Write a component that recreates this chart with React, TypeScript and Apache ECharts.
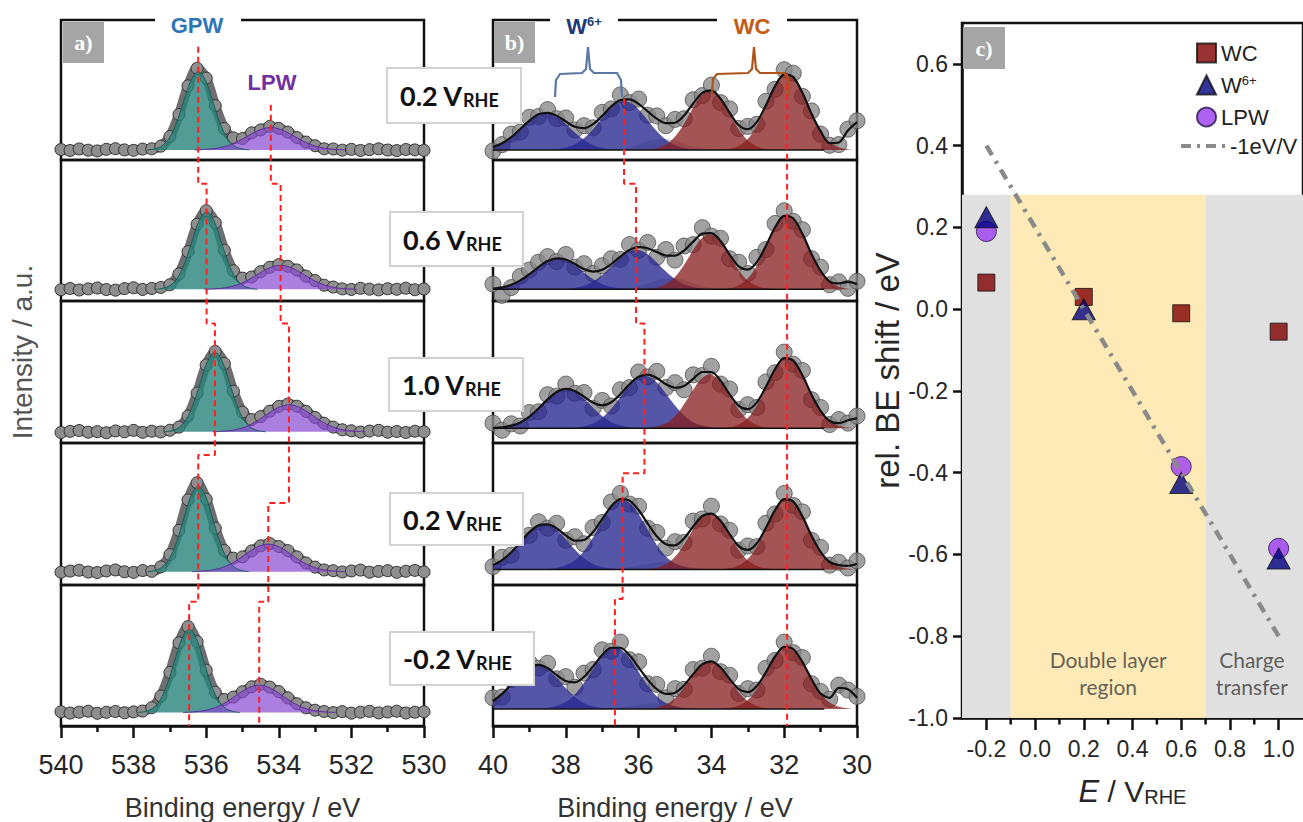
import React, { useEffect, useRef } from 'react';
import * as echarts from 'echarts';

const SANS = '"Liberation Sans", Arial, Helvetica, sans-serif';
const CAL = 'Lato, "Open Sans", sans-serif';
const SERIF = '"Liberation Serif", "DejaVu Serif", serif';

// ---------------- panel a: O 1s ----------------
const POTENTIALS = ['0.2', '0.6', '1.0', '0.2', '-0.2'];
const X_A = [540, 539.75, 539.5, 539.25, 539, 538.75, 538.5, 538.25, 538, 537.75, 537.5, 537.25, 537, 536.75, 536.5, 536.25, 536, 535.75, 535.5, 535.25, 535, 534.75, 534.5, 534.25, 534, 533.75, 533.5, 533.25, 533, 532.75, 532.5, 532.25, 532, 531.75, 531.5, 531.25, 531, 530.75, 530.5, 530.25, 530];
const O1S_ROW1 = [7.5, 6.8, 7.9, 7.0, 6.5, 7.6, 8.1, 7.2, 6.9, 7.8, 8.0, 9.9, 16.8, 32.5, 53.0, 65.5, 58.5, 38.8, 22.5, 15.8, 15.3, 19.4, 21.5, 24.0, 22.6, 19.9, 16.0, 12.8, 10.2, 8.0, 7.9, 7.0, 7.6, 6.8, 7.4, 8.0, 7.1, 6.7, 7.5, 7.2, 6.9];
const O1S_ROW2 = [8.0, 8.9, 7.8, 8.6, 9.2, 8.1, 7.7, 8.8, 9.4, 8.2, 8.9, 9.6, 11.5, 19.2, 35.0, 54.5, 64.0, 55.5, 36.0, 21.5, 16.2, 17.0, 20.8, 23.9, 25.8, 24.6, 22.0, 17.6, 14.5, 11.2, 9.9, 8.6, 8.2, 9.0, 8.4, 7.9, 8.7, 8.3, 9.1, 8.0, 8.5];
const O1S_ROW3 = [7.4, 8.2, 8.8, 7.6, 8.0, 7.2, 8.5, 7.9, 8.9, 7.5, 8.3, 7.8, 9.0, 11.2, 19.0, 35.2, 55.0, 64.5, 56.0, 36.5, 21.8, 16.5, 18.6, 22.4, 25.8, 27.4, 25.9, 22.3, 18.0, 13.9, 11.2, 9.3, 8.6, 7.7, 8.4, 8.9, 7.6, 8.1, 7.4, 8.3, 7.9];
const O1S_ROW4 = [9.0, 9.8, 10.4, 9.1, 8.8, 9.9, 10.6, 9.3, 8.9, 10.2, 9.6, 12.8, 21.4, 38.5, 60.0, 72.0, 60.5, 40.0, 24.3, 18.9, 19.8, 24.0, 27.6, 29.2, 27.1, 24.2, 19.8, 15.5, 12.6, 10.6, 10.1, 9.2, 9.9, 10.5, 9.0, 9.6, 10.1, 8.9, 9.7, 10.3, 9.2];
const O1S_ROW5 = [10.1, 9.2, 9.8, 10.5, 9.0, 9.7, 10.3, 9.4, 10.0, 10.6, 13.0, 21.2, 38.0, 59.0, 70.5, 59.8, 39.6, 24.0, 18.8, 20.5, 24.3, 27.8, 29.6, 27.6, 24.4, 20.0, 15.8, 12.9, 11.2, 10.3, 9.5, 10.2, 9.1, 9.8, 10.4, 9.3, 9.9, 10.5, 9.2, 9.8, 10.1];
const O1S_DATA = [O1S_ROW1, O1S_ROW2, O1S_ROW3, O1S_ROW4, O1S_ROW5];
const O1S_BASE = [7.2, 8.3, 7.9, 9.4, 9.6];
const GPW_CENTER = [536.22, 535.99, 535.76, 536.22, 536.47];
const GPW_AMP = [56, 55, 56, 60, 59];
const LPW_CENTER = [534.22, 533.95, 533.72, 534.29, 534.54];
const LPW_AMP = [16, 17, 19, 19.4, 19.4];
const GPW_SHAPE_DX = [-1.4, -1.2, -1.0, -0.8, -0.6, -0.4, -0.2, 0, 0.2, 0.4, 0.6, 0.8, 1.0, 1.2, 1.4];
const GPW_SHAPE = [0, 0.014, 0.051, 0.149, 0.343, 0.621, 0.888, 1, 0.888, 0.621, 0.343, 0.149, 0.051, 0.014, 0];
const LPW_SHAPE_DX = [-2.1, -1.8, -1.5, -1.2, -0.9, -0.6, -0.3, 0, 0.3, 0.6, 0.9, 1.2, 1.5, 1.8, 2.1];
const LPW_SHAPE = [0, 0.022, 0.07, 0.182, 0.383, 0.653, 0.899, 1, 0.899, 0.653, 0.383, 0.182, 0.07, 0.022, 0];

// ---------------- panel b: W 4f ----------------
const X_B = [40, 39.75, 39.5, 39.25, 39, 38.75, 38.5, 38.25, 38, 37.75, 37.5, 37.25, 37, 36.75, 36.5, 36.25, 36, 35.75, 35.5, 35.25, 35, 34.75, 34.5, 34.25, 34, 33.75, 33.5, 33.25, 33, 32.75, 32.5, 32.25, 32, 31.75, 31.5, 31.25, 31, 30.75, 30.5, 30.25, 30];
const W4F_ROW1 = [6.5, 11.0, 18.5, 20.0, 30.5, 31.0, 36.0, 29.5, 30.0, 21.5, 24.5, 23.0, 34.0, 36.5, 46.5, 41.0, 43.5, 32.0, 31.5, 24.5, 29.0, 29.5, 43.0, 46.0, 53.5, 41.0, 36.5, 22.5, 24.0, 25.5, 42.0, 50.5, 64.5, 62.0, 45.5, 35.0, 18.5, 10.5, 11.0, 22.0, 28.0];
const W4F_ROW2 = [12.0, 4.0, 9.5, 17.5, 22.0, 27.5, 31.5, 28.0, 33.0, 24.0, 26.5, 19.5, 25.0, 30.0, 29.5, 40.0, 36.0, 41.5, 31.0, 36.5, 29.0, 39.0, 40.0, 52.0, 46.0, 44.5, 30.0, 27.5, 19.5, 31.0, 36.5, 55.0, 64.0, 56.5, 50.5, 30.0, 24.0, 11.5, 13.5, 9.0, 14.0];
const W4F_ROW3 = [14.0, 9.0, 13.5, 12.0, 21.5, 22.0, 34.0, 33.0, 41.5, 35.0, 35.5, 24.5, 30.0, 26.0, 37.5, 39.0, 50.0, 46.5, 50.5, 39.0, 42.5, 37.5, 48.0, 47.5, 54.0, 41.5, 38.0, 23.5, 27.0, 25.0, 43.0, 49.5, 64.0, 55.5, 51.0, 30.5, 25.0, 13.0, 16.5, 14.0, 19.0];
const W4F_ROW4 = [13.0, 19.5, 21.0, 33.0, 35.0, 44.5, 40.0, 43.5, 31.5, 34.0, 29.0, 40.5, 44.0, 58.5, 64.5, 57.0, 55.5, 40.0, 37.0, 26.0, 30.5, 30.0, 45.0, 46.5, 55.5, 43.0, 38.5, 24.5, 27.5, 27.0, 43.5, 50.0, 64.5, 56.0, 51.5, 31.5, 26.5, 14.0, 16.0, 12.0, 17.0];
const W4F_ROW5 = [20.0, 20.5, 33.0, 34.5, 45.0, 41.0, 44.5, 33.5, 35.0, 27.5, 37.5, 40.0, 54.0, 53.0, 59.5, 47.0, 45.5, 30.0, 29.5, 20.0, 26.5, 26.0, 40.0, 41.0, 49.5, 38.5, 36.0, 23.0, 26.5, 25.5, 41.0, 46.5, 59.5, 52.0, 48.5, 30.0, 24.5, 19.0, 29.0, 25.5, 21.0];
const W4F_DATA = [W4F_ROW1, W4F_ROW2, W4F_ROW3, W4F_ROW4, W4F_ROW5];
const W4F_FIT1 = [9.3, 12.0, 16.3, 22.1, 28.1, 32.6, 33.7, 31.7, 27.5, 23.7, 22.7, 25.6, 31.5, 38.3, 42.8, 43.3, 40.1, 34.7, 29.5, 26.3, 26.6, 31.8, 40.4, 48.0, 49.8, 43.8, 33.8, 24.8, 22.0, 27.2, 39.3, 52.8, 61.2, 59.2, 48.0, 33.1, 20.6, 12.0, 12.5, 21.0, 27.0];
const W4F_FIT2 = [8.8, 9.7, 11.5, 14.6, 19.0, 24.1, 28.3, 30.3, 29.4, 26.2, 22.7, 20.9, 22.2, 26.2, 31.5, 36.1, 38.2, 37.4, 34.7, 32.2, 32.2, 35.8, 42.1, 47.8, 48.2, 42.6, 32.9, 24.6, 22.3, 27.6, 39.2, 52.3, 60.4, 58.5, 47.7, 33.4, 21.3, 13.8, 12.5, 13.5, 12.0];
const W4F_FIT3 = [10.5, 11.0, 12.2, 14.5, 18.6, 24.3, 30.7, 35.9, 38.1, 36.7, 32.6, 28.3, 26.5, 28.7, 34.4, 41.4, 46.6, 48.2, 45.8, 41.4, 38.9, 40.2, 45.2, 50.0, 50.0, 43.9, 34.3, 26.2, 23.8, 28.6, 39.7, 52.1, 59.8, 58.0, 47.7, 34.1, 22.7, 15.5, 14.0, 16.0, 17.5];
const W4F_FIT4 = [14.0, 17.5, 23.0, 30.1, 37.2, 42.0, 42.7, 39.9, 34.9, 31.3, 31.7, 37.3, 46.4, 55.4, 60.5, 59.4, 52.8, 43.3, 34.3, 28.7, 27.9, 32.8, 41.2, 48.6, 50.3, 45.3, 35.9, 27.4, 24.7, 29.4, 40.5, 52.8, 60.5, 58.7, 48.4, 34.8, 23.4, 16.2, 14.0, 13.5, 15.0];
const W4F_FIT5 = [17.7, 22.8, 29.6, 36.8, 42.1, 43.4, 41.1, 36.1, 31.9, 30.9, 34.8, 42.3, 50.4, 55.5, 55.5, 50.1, 41.6, 32.9, 26.1, 22.8, 23.6, 28.9, 36.8, 43.8, 45.9, 41.6, 33.4, 26.2, 24.0, 28.4, 38.3, 49.3, 56.2, 54.6, 45.4, 33.3, 23.0, 20.0, 27.0, 26.0, 20.0];
const W4F_FIT = [W4F_FIT1, W4F_FIT2, W4F_FIT3, W4F_FIT4, W4F_FIT5];
const W4F_BASE = [7.1, 8.3, 10.3, 11, 12];
const W4F_BASE_END = 30.9;
const W6_72_CENTER = [36.4, 36.07, 35.84, 36.44, 36.65];
const W6_72_AMP = [35, 28, 37, 49, 43.6];
const W6_52_CENTER = [38.55, 38.22, 37.99, 38.59, 38.8];
const W6_52_AMP = [26.7, 22, 27.7, 32, 31.5];
const WX_CENTER = [35.35, 35.1, 34.85, 35.4, 35.6];
const WX_AMP = [8, 8, 4, 5, 4];
const WC_52_CENTER = [34.05, 34.05, 34.05, 34.05, 34.05];
const WC_52_AMP = [42.5, 39, 38, 39.5, 34];
const WC_72_CENTER = [31.92, 31.92, 31.92, 31.92, 31.92];
const WC_72_AMP = [54.7, 52.7, 50, 50, 44.7];
const W6_SHAPE_DX = [-2.2, -1.8, -1.4, -1.1, -0.8, -0.5, -0.25, 0, 0.25, 0.5, 0.8, 1.1, 1.4, 1.8, 2.2];
const W6_SHAPE = [0, 0.022, 0.098, 0.239, 0.469, 0.744, 0.929, 1, 0.929, 0.744, 0.469, 0.239, 0.098, 0.022, 0];
const WC_SHAPE_DX = [-1.8, -1.4, -1.1, -0.85, -0.6, -0.4, -0.2, 0, 0.2, 0.4, 0.6, 0.85, 1.1, 1.4, 1.8];
const WC_SHAPE = [0, 0.039, 0.135, 0.303, 0.552, 0.768, 0.936, 1, 0.936, 0.768, 0.552, 0.303, 0.135, 0.039, 0];

// dashed peak-position guides (panel height units: 5 = top, 0 = bottom)
const GPW_GUIDE_START = 4.81;
const GPW_GUIDE_STEPS = [3.84, 2.85, 1.92, 0.88];
const LPW_GUIDE_START = 4.4;
const LPW_GUIDE_STEPS = [3.84, 2.85, 1.58, 0.88];
const W6_GUIDE_START = 4.44;
const W6_GUIDE_STEPS = [3.84, 2.85, 1.79, 0.9];
const WC_GUIDE_START = 4.62;
const WC_GUIDE_STEPS = [3.84, 2.85, 1.79, 0.9];

// ---------------- panel c ----------------
const E_VALUES = [-0.2, 0.2, 0.6, 1.0];
const SHIFT_WC = [0.065, 0.03, -0.01, -0.055];
const SHIFT_W6 = [0.225, 0.0, -0.425, -0.61];
const SHIFT_LPW = [0.19, null, -0.385, -0.585];
const SLOPE_E = [-0.2, 1.0];
const SLOPE_SHIFT = [0.4, -0.8];
const REGION_BOUNDS = [-0.3, -0.1, 0.7, 1.1];
const REGION_COLORS = ['#e0e0e0', '#fdeab6', '#e0e0e0'];
const REGION_TOP = 0.28;
const REGION_NAMES = ['Double layer\nregion', 'Charge\ntransfer'];
const REGION_NAME_X = [0.3, 0.89];
const REGION_NAME_Y = -0.89;
const Y_MIN_C = -1.0;
const Y_MAX_C = 0.7;
const C_X_TICKS = [-0.2, 0, 0.2, 0.4, 0.6, 0.8, 1.0];
const C_X_MINOR = [-0.1, 0.1, 0.3, 0.5, 0.7, 0.9];
const C_Y_TICKS = [-1.0, -0.8, -0.6, -0.4, -0.2, 0, 0.2, 0.4, 0.6];

// ---------------- layout ----------------
const ROW_EDGES = [20, 160, 301, 443, 585, 726];
const PANEL_A_X = [61, 424];
const PANEL_B_X = [493, 857];
const C_BOX = [962, 23, 345, 695];
const LABEL_BOXES = [
  [387, 68, 134, 55],
  [390, 212, 133, 54],
  [389, 358, 134, 53],
  [390, 493, 133, 52],
  [390, 632, 144, 53],
];
const INK = '#111';
const TXT = '#262626';

function shapeCurve(center: number, amp: number, base: number, dx: number[], shape: number[]) {
  return dx.map((d, i) => [center + d, base + amp * shape[i]]);
}

function guidePath(centers: number[], start: number, steps: number[]) {
  const pts: number[][] = [[centers[0], start]];
  for (let i = 0; i < steps.length; i++) {
    pts.push([centers[i], steps[i]]);
    pts.push([centers[i + 1], steps[i]]);
  }
  pts.push([centers[centers.length - 1], 0]);
  return pts;
}

function buildOption() {
  const grid: any[] = [];
  const xAxis: any[] = [];
  const yAxis: any[] = [];
  const series: any[] = [];

  const rowAxes = (px: number[], min: number, max: number, r: number) => {
    const idx = grid.length;
    grid.push({
      left: px[0], top: ROW_EDGES[r], width: px[1] - px[0], height: ROW_EDGES[r + 1] - ROW_EDGES[r],
      show: true, borderColor: INK, borderWidth: 2.5, backgroundColor: 'rgba(0,0,0,0)',
    });
    const bottom = r === 4;
    xAxis.push({
      type: 'value', gridIndex: idx, min, max, inverse: true, interval: 2, show: bottom,
      axisLine: { show: true, onZero: false, lineStyle: { color: INK, width: 2.5 } },
      axisTick: { show: true, length: 12, lineStyle: { color: INK, width: 2.5 } },
      minorTick: { show: true, splitNumber: 2, length: 6, lineStyle: { color: INK, width: 2.5 } },
      axisLabel: { fontSize: 27, margin: 25, color: TXT, fontFamily: SANS },
      splitLine: { show: false },
      name: bottom ? 'Binding energy / eV' : '',
      nameLocation: 'middle', nameGap: 68,
      nameTextStyle: { fontSize: 27, color: '#333', fontFamily: SANS },
    });
    yAxis.push({ type: 'value', gridIndex: idx, min: 0, max: 100, show: false });
    return idx;
  };

  // panel a rows
  for (let r = 0; r < 5; r++) {
    const ax = rowAxes(PANEL_A_X, 530, 540, r);
    const base = O1S_BASE[r];
    series.push({
      type: 'line', xAxisIndex: ax, yAxisIndex: ax, silent: true, z: 2,
      data: X_A.map((x, i) => [x, O1S_DATA[r][i]]), smooth: 0.3,
      symbol: 'circle', symbolSize: 12, showSymbol: true,
      lineStyle: { color: '#6f6f6f', width: 10 },
      itemStyle: { color: '#8e8e8e', borderColor: '#333', borderWidth: 1 },
    });
    series.push({
      type: 'line', xAxisIndex: ax, yAxisIndex: ax, silent: true, z: 3, symbol: 'none', smooth: 0.35,
      data: shapeCurve(GPW_CENTER[r], GPW_AMP[r], base, GPW_SHAPE_DX, GPW_SHAPE),
      lineStyle: { width: 1, color: 'rgba(20,90,85,0.9)' },
      areaStyle: { color: 'rgba(40,130,122,0.8)', opacity: 1, origin: base },
    });
    series.push({
      type: 'line', xAxisIndex: ax, yAxisIndex: ax, silent: true, z: 3, symbol: 'none', smooth: 0.35,
      data: shapeCurve(LPW_CENTER[r], LPW_AMP[r], base, LPW_SHAPE_DX, LPW_SHAPE),
      lineStyle: { width: 1, color: 'rgba(90,40,150,0.9)' },
      areaStyle: { color: 'rgba(135,72,210,0.7)', opacity: 1, origin: base },
    });
  }

  // panel b rows
  for (let r = 0; r < 5; r++) {
    const ax = rowAxes(PANEL_B_X, 30, 40, r);
    const base = W4F_BASE[r];
    series.push({
      type: 'scatter', xAxisIndex: ax, yAxisIndex: ax, silent: true, z: 2,
      data: X_B.map((x, i) => [x, W4F_DATA[r][i]]), symbolSize: 16,
      itemStyle: { color: '#8a8a8a', borderColor: '#505050', borderWidth: 1 },
    });
    const comps: any[] = [
      [WX_CENTER[r], WX_AMP[r], WC_SHAPE_DX, WC_SHAPE, 'rgba(200,200,200,0.95)'],
      [W6_52_CENTER[r], W6_52_AMP[r], W6_SHAPE_DX, W6_SHAPE, 'rgba(38,38,145,0.78)'],
      [W6_72_CENTER[r], W6_72_AMP[r], W6_SHAPE_DX, W6_SHAPE, 'rgba(38,38,145,0.78)'],
      [WC_52_CENTER[r], WC_52_AMP[r], WC_SHAPE_DX, WC_SHAPE, 'rgba(135,30,30,0.76)'],
      [WC_72_CENTER[r], WC_72_AMP[r], WC_SHAPE_DX, WC_SHAPE, 'rgba(135,30,30,0.76)'],
    ];
    comps.forEach((c) => {
      series.push({
        type: 'line', xAxisIndex: ax, yAxisIndex: ax, silent: true, z: 3, symbol: 'none', smooth: 0.35,
        data: shapeCurve(c[0], c[1], base, c[2], c[3]),
        lineStyle: { width: 0 },
        areaStyle: { color: c[4], opacity: 1, origin: base },
      });
    });
    series.push({
      type: 'line', xAxisIndex: ax, yAxisIndex: ax, silent: true, z: 4, symbol: 'none',
      data: [[40, base], [W4F_BASE_END, base]],
      lineStyle: { color: INK, width: 1.5 },
    });
    series.push({
      type: 'line', xAxisIndex: ax, yAxisIndex: ax, silent: true, z: 5, symbol: 'none', smooth: 0.3,
      data: X_B.map((x, i) => [x, W4F_FIT[r][i]]),
      lineStyle: { color: INK, width: 2.2 },
    });
  }

  // overlay grids for dashed guides
  [[PANEL_A_X, 530, 540], [PANEL_B_X, 30, 40]].forEach((p: any) => {
    const idx = grid.length;
    grid.push({ left: p[0][0], top: ROW_EDGES[0], width: p[0][1] - p[0][0], height: ROW_EDGES[5] - ROW_EDGES[0], show: false });
    xAxis.push({ type: 'value', gridIndex: idx, min: p[1], max: p[2], inverse: true, show: false });
    yAxis.push({ type: 'value', gridIndex: idx, min: 0, max: 5, show: false });
  });
  const dashed = { color: '#ff1f1f', width: 2, type: [6, 4] };
  series.push({ type: 'line', xAxisIndex: 10, yAxisIndex: 10, silent: true, z: 8, symbol: 'none', lineStyle: dashed, data: guidePath(GPW_CENTER, GPW_GUIDE_START, GPW_GUIDE_STEPS) });
  series.push({ type: 'line', xAxisIndex: 10, yAxisIndex: 10, silent: true, z: 8, symbol: 'none', lineStyle: dashed, data: guidePath(LPW_CENTER, LPW_GUIDE_START, LPW_GUIDE_STEPS) });
  series.push({ type: 'line', xAxisIndex: 11, yAxisIndex: 11, silent: true, z: 8, symbol: 'none', lineStyle: dashed, data: guidePath(W6_72_CENTER, W6_GUIDE_START, W6_GUIDE_STEPS) });
  series.push({ type: 'line', xAxisIndex: 11, yAxisIndex: 11, silent: true, z: 8, symbol: 'none', lineStyle: dashed, data: guidePath(WC_72_CENTER, WC_GUIDE_START, WC_GUIDE_STEPS) });

  // panel c
  grid.push({ left: C_BOX[0], top: C_BOX[1], width: C_BOX[2], height: C_BOX[3], show: true, borderColor: INK, borderWidth: 2.5, backgroundColor: 'rgba(0,0,0,0)' });
  xAxis.push({
    type: 'value', gridIndex: 12, min: REGION_BOUNDS[0], max: REGION_BOUNDS[3],
    axisLine: { onZero: false, lineStyle: { color: INK, width: 2.5 } },
    axisTick: { customValues: C_X_TICKS, length: 12, lineStyle: { color: INK, width: 2.5 } },
    axisLabel: { customValues: C_X_TICKS, formatter: (v: number) => v.toFixed(1), fontSize: 23, margin: 19, color: TXT, fontFamily: SANS },
    splitLine: { show: false },
    name: '{i|E}{n| / V}{s|RHE}', nameLocation: 'middle', nameGap: 58,
    nameTextStyle: {
      fontFamily: SANS, fontSize: 30, color: TXT,
      rich: {
        i: { fontFamily: SANS, fontSize: 31, fontStyle: 'italic', color: TXT },
        n: { fontFamily: SANS, fontSize: 30, color: TXT },
        s: { fontFamily: SANS, fontSize: 20, color: TXT, verticalAlign: 'bottom', lineHeight: 14 },
      },
    },
  });
  yAxis.push({
    type: 'value', gridIndex: 12, min: Y_MIN_C, max: Y_MAX_C,
    axisLine: { show: true, onZero: false, lineStyle: { color: INK, width: 2.5 } },
    axisTick: { show: true, customValues: C_Y_TICKS, length: 9, lineStyle: { color: INK, width: 2.5 } },
    axisLabel: { customValues: C_Y_TICKS, formatter: (v: number) => v.toFixed(1), fontSize: 23, margin: 14, color: TXT, fontFamily: SANS },
    splitLine: { show: false },
    name: 'rel. BE shift / eV', nameLocation: 'middle', nameGap: 52,
    nameTextStyle: { fontSize: 33, color: TXT, fontFamily: SANS },
  });

  // shaded regions as filled lines down to the axis minimum
  for (let k = 0; k < 3; k++) {
    series.push({
      type: 'line', xAxisIndex: 12, yAxisIndex: 12, z: 1, silent: true, symbol: 'none',
      data: [[REGION_BOUNDS[k], REGION_TOP], [REGION_BOUNDS[k + 1], REGION_TOP]],
      lineStyle: { width: 0, color: REGION_COLORS[k] },
      areaStyle: { color: REGION_COLORS[k], opacity: 1, origin: Y_MIN_C },
    });
  }
  // minor x ticks of panel c, placed through the axis scale
  series.push({
    type: 'custom', xAxisIndex: 12, yAxisIndex: 12, z: 10, silent: true, clip: false,
    data: C_X_MINOR.map((v) => [v, Y_MIN_C]),
    encode: { x: 0, y: 1 },
    renderItem: (_p: any, api: any) => {
      const pt = api.coord([api.value(0), api.value(1)]);
      return { type: 'line', shape: { x1: pt[0], y1: pt[1], x2: pt[0], y2: pt[1] + 6.5 }, style: { stroke: INK, lineWidth: 2.5 } };
    },
  });
  series.push({
    type: 'scatter', xAxisIndex: 12, yAxisIndex: 12, z: 2, silent: true, symbolSize: 0,
    data: REGION_NAMES.map((n, i) => ({ name: n, value: [REGION_NAME_X[i], REGION_NAME_Y] })),
    label: { show: true, position: 'inside', formatter: '{b}', color: '#3a3a3a', fontSize: 21, lineHeight: 27, fontFamily: CAL, align: 'center' },
  });
  series.push({
    name: 'LPW', type: 'scatter', xAxisIndex: 12, yAxisIndex: 12, z: 3, silent: true,
    data: E_VALUES.map((e, i) => [e, SHIFT_LPW[i]]).filter((d) => d[1] !== null), symbol: 'circle', symbolSize: 20,
    itemStyle: { color: '#9b3cf3', borderColor: '#2a1844', borderWidth: 1 },
  });
  series.push({
    name: 'WC', type: 'scatter', xAxisIndex: 12, yAxisIndex: 12, z: 4, silent: true,
    data: E_VALUES.map((e, i) => [e, SHIFT_WC[i]]), symbol: 'rect', symbolSize: 17,
    itemStyle: { color: '#7f0000', borderColor: '#111', borderWidth: 1 },
  });
  series.push({
    name: 'W6+', type: 'scatter', xAxisIndex: 12, yAxisIndex: 12, z: 5, silent: true,
    data: E_VALUES.map((e, i) => [e, SHIFT_W6[i]]), symbol: 'triangle', symbolSize: [23, 21],
    itemStyle: { color: '#000080', borderColor: '#111', borderWidth: 1 },
  });
  series.push({
    name: '-1eV/V', type: 'line', xAxisIndex: 12, yAxisIndex: 12, z: 6, silent: true, symbol: 'none',
    data: SLOPE_E.map((e, i) => [e, SLOPE_SHIFT[i]]),
    itemStyle: { color: '#8a8a8a' },
    lineStyle: { color: '#8a8a8a', width: 4.5, type: [11, 7, 3, 7] },
  });

  // ---------------- graphics ----------------
  const g: any[] = [];
  const headRect = (x: number, w: number) => g.push({ type: 'rect', z: 60, silent: true, shape: { x, y: 4, width: w, height: 40 }, style: { fill: '#fff' } });
  headRect(155, 86); headRect(550, 68); headRect(717, 70);
  const bold = (t: string, x: number, y: number, color: string, size = 21) => g.push({
    type: 'text', z: 61, silent: true, x, y,
    style: { text: t, fill: color, fontSize: size, fontWeight: 'bold', fontFamily: SANS, align: 'center', verticalAlign: 'middle' },
  });
  bold('GPW', 197, 25, '#2e75b6', 22);
  bold('LPW', 272, 82, '#7030a0', 22);
  bold('WC', 752, 26, '#c55a11', 22);
  g.push({
    type: 'text', z: 61, silent: true, x: 584, y: 26,
    style: {
      text: '{w|W}{s|6+}', align: 'center', verticalAlign: 'middle',
      rich: {
        w: { fill: '#1f3a75', fontSize: 22, fontWeight: 'bold', fontFamily: SANS },
        s: { fill: '#1f3a75', fontSize: 13, fontWeight: 'bold', fontFamily: SANS, verticalAlign: 'top', lineHeight: 12 },
      },
    },
  });
  g.push({ type: 'polyline', z: 55, silent: true, shape: { points: [[555, 97], [556, 80], [560, 74], [582, 73], [586, 69], [588, 47], [590, 69], [594, 73], [617, 73], [621, 80], [622, 97]] }, style: { stroke: '#5b78a3', lineWidth: 2.2, fill: 'none' } });
  g.push({ type: 'polyline', z: 55, silent: true, shape: { points: [[712, 93], [713, 79], [717, 74], [748, 73], [752, 69], [754, 47], [756, 69], [760, 73], [784, 73], [788, 79], [789, 95]] }, style: { stroke: '#b0531a', lineWidth: 2.2, fill: 'none' } });
  const letter = (t: string, x: number, y: number, s: number) => {
    g.push({ type: 'rect', z: 62, silent: true, shape: { x, y, width: s, height: s }, style: { fill: '#a5a5a5' } });
    g.push({ type: 'text', z: 63, silent: true, x: x + s / 2, y: y + s / 2, style: { text: t, fill: '#fff', fontSize: 22, fontWeight: 'bold', fontFamily: SERIF, align: 'center', verticalAlign: 'middle' } });
  };
  letter('a)', 63, 22, 41);
  letter('b)', 494, 22, 41);
  letter('c)', 963, 27, 42);
  LABEL_BOXES.forEach((b, i) => {
    g.push({ type: 'rect', z: 70, silent: true, shape: { x: b[0], y: b[1], width: b[2], height: b[3] }, style: { fill: '#fff', stroke: '#d2d2d2', lineWidth: 2 } });
    g.push({
      type: 'text', z: 71, silent: true, x: b[0] + 13, y: b[1] + b[3] / 2,
      style: {
        text: `{v|${POTENTIALS[i]} V}{s|RHE}`, align: 'left', verticalAlign: 'middle',
        rich: {
          v: { fill: '#111', fontSize: 27, fontWeight: 'bold', fontFamily: CAL },
          s: { fill: '#111', fontSize: 18, fontWeight: 'bold', fontFamily: CAL, verticalAlign: 'bottom', lineHeight: 8 },
        },
      },
    });
  });
  g.push({
    type: 'text', z: 61, silent: true, x: 22, y: 352, rotation: Math.PI / 2,
    style: { text: 'Intensity / a.u.', fill: '#555', fontSize: 28, fontFamily: SANS, align: 'center', verticalAlign: 'middle' },
  });

  return {
    animation: false,
    backgroundColor: '#ffffff',
    textStyle: { fontFamily: SANS },
    grid, xAxis, yAxis, series, graphic: g,
    legend: [
      {
        data: ['WC', 'W6+', 'LPW'], orient: 'vertical', left: 1191, top: 37, itemWidth: 19, itemHeight: 19, itemGap: 10,
        selectedMode: false,
        formatter: (name: string) => (name === 'W6+' ? '{n|W}{sup|6+}' : name),
        textStyle: {
          fontSize: 22, color: '#222', fontFamily: SANS,
          rich: {
            n: { fontSize: 22, color: '#222', fontFamily: SANS },
            sup: { fontSize: 13, color: '#222', fontFamily: SANS, verticalAlign: 'top', lineHeight: 13 },
          },
        },
      },
      {
        data: [{ name: '-1eV/V', icon: 'path://M0,0H10V4H0Z M16,0H19V4H16Z M25,0H35V4H25Z M41,0H44V4H41Z', itemStyle: { color: '#8a8a8a' } }],
        left: 1176, top: 130, itemWidth: 44, itemHeight: 4, selectedMode: false,
        textStyle: { fontSize: 22, color: '#222', fontFamily: SANS },
      },
    ],
  };
}

export default function App() {
  const ref = useRef<HTMLDivElement>(null);
  useEffect(() => {
    if (!ref.current) return;
    const chart = echarts.init(ref.current, undefined, { renderer: 'svg' });
    chart.setOption(buildOption() as any);
    return () => chart.dispose();
  }, []);
  return <div ref={ref} style={{ position: 'fixed', left: 0, top: 0, width: 1303, height: 822, background: '#fff' }} />;
}
